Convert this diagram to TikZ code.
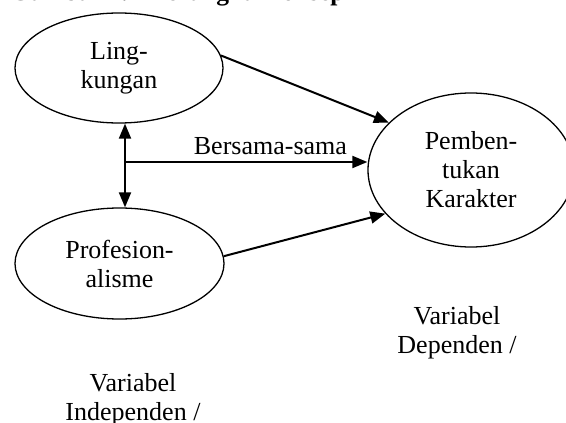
\documentclass[tikz,border=0pt]{standalone}
\usepackage{fontspec}
\setmainfont{Liberation Serif}
\usetikzlibrary{arrows.meta,shapes.geometric}
\begin{document}
\begin{tikzpicture}[x=1pt,y=-1pt,
    font=\fontsize{26}{29}\selectfont,
    var/.style={draw,ellipse,line width=1.3pt,inner sep=0pt,align=center},
    link/.style={line width=2pt,-{Triangle[length=15pt,width=12pt]}}]
  \useasboundingbox (0,0) rectangle (566,423);
  \node[anchor=base west,inner sep=0pt,font=\fontsize{25.5}{30}\selectfont\bfseries] (judul) at (10,1) {Gambar 2.1 Kerangka Konsep};
  \node[var,minimum width=208pt,minimum height=110pt] (ling) at (119,68) {Ling-\\kungan};
  \node[var,minimum width=209pt,minimum height=111pt] (prof) at (119.5,263.5) {Profesion-\\alisme};
  \node[var,minimum width=206pt,minimum height=154pt] (karakter) at (471,170) {Pemben-\\tukan\\Karakter};
  \node[align=center] (indep) at (133,400) {Variabel\\Independen /};
  \node[align=center] (dep) at (457,333) {Variabel\\Dependen /};
  \coordinate (simpul) at (125,162);
  \draw[link] (ling.7) -- (karakter.150);
  \draw[link] (prof.4) -- (karakter.207);
  \draw[link,{Triangle[length=15pt,width=12pt]}-{Triangle[length=15pt,width=12pt]}] (ling.south -| simpul) -- (prof.north -| simpul);
  \draw[link] (simpul) -- (simpul -| karakter.west) node[pos=0.6,above=6pt,inner sep=0pt] {Bersama-sama};
\end{tikzpicture}
\end{document}
